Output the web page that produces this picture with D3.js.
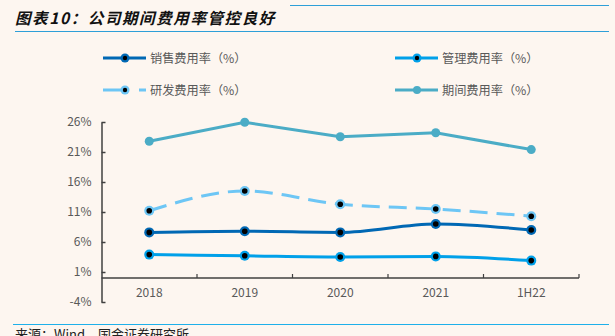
<!DOCTYPE html>
<html><head><meta charset="utf-8">
<script src="https://cdn.jsdelivr.net/npm/d3@7"></script>
<style>
html,body{margin:0;padding:0;background:#FDF6F0;}
svg{display:block;}
</style></head>
<body>
<svg id="c" width="615" height="336"></svg>
<script>
const categories = ["2018","2019","2020","2021","1H22"];
const salesRate = [7.6, 7.8, 7.6, 9.0, 8.0];
const adminRate = [3.9, 3.7, 3.5, 3.6, 2.9];
const rdRate = [11.2, 14.5, 12.3, 11.5, 10.3];
const periodRate = [22.8, 25.95, 23.55, 24.2, 21.4];
const yTicks = [-4, 1, 6, 11, 16, 21, 26];
const seriesNames = ["销售费用率（%）","管理费用率（%）","研发费用率（%）","期间费用率（%）"];
const title = "图表10：公司期间费用率管控良好";
const source = "来源：Wind，国金证券研究所";

const svg = d3.select("#c");
const font = "'Noto Sans CJK SC', 'Noto Sans', sans-serif";
svg.append("rect").attr("width",615).attr("height",336).attr("fill","#FDF6F0");

// header
svg.append("text").attr("x",15).attr("y",23.5).text(title)
  .attr("font-family",font).attr("font-size",15.5).attr("font-weight","bold")
  .attr("letter-spacing",1.6)
  .attr("font-style","italic").attr("fill","#111");
svg.append("line").attr("x1",290).attr("x2",609).attr("y1",5.5).attr("y2",5.5).attr("stroke","#2E9FD8").attr("stroke-width",1.2);
svg.append("line").attr("x1",15).attr("x2",609).attr("y1",31.5).attr("y2",31.5).attr("stroke","#2E9FD8").attr("stroke-width",1.2);
svg.append("line").attr("x1",13).attr("x2",609).attr("y1",324.5).attr("y2",324.5).attr("stroke","#1EB0EA").attr("stroke-width",1.2);
svg.append("text").attr("x",15).attr("y",339).text(source)
  .attr("font-family",font).attr("font-size",13).attr("fill","#222");

const x = d3.scaleBand().domain(categories).range([101.5,579]);
const y = d3.scaleLinear().domain([-4,26]).range([302,122]);

const axisColor = "#404040", labelColor = "#595959";
// y axis
const ya = svg.append("g").attr("transform","translate(101.5,0)")
  .call(d3.axisLeft(y).tickValues(yTicks).tickSize(-4).tickSizeOuter(0).tickPadding(10).tickFormat(d=>d+"%"));
ya.select(".domain").attr("stroke",axisColor).attr("stroke-width",1.5);
ya.selectAll(".tick line").attr("stroke",axisColor).attr("stroke-width",1.5);
ya.selectAll(".tick text").attr("font-family",font).attr("font-size",12).attr("fill",labelColor);

// x axis
const xa = svg.append("g").attr("transform",`translate(0,${y(0)})`);
xa.append("line").attr("x1",101.5).attr("x2",579).attr("y1",0).attr("y2",0).attr("stroke",axisColor).attr("stroke-width",1.5);
const bounds = categories.map(c=>x(c)+x.bandwidth());
xa.selectAll("line.t").data(bounds).join("line").attr("class","t")
  .attr("x1",d=>d).attr("x2",d=>d).attr("y1",0).attr("y2",-4).attr("stroke",axisColor).attr("stroke-width",1.2);
xa.selectAll("text").data(categories).join("text")
  .attr("x",d=>x(d)+x.bandwidth()/2).attr("y",19).attr("text-anchor","middle")
  .attr("font-family",font).attr("font-size",12).attr("fill",labelColor).text(d=>d);

const cx = d=>x(d)+x.bandwidth()/2;
const series = [
  {name:seriesNames[0], vals:salesRate, color:"#0068B4", dash:null, dot:true, curve:d3.curveMonotoneX},
  {name:seriesNames[1], vals:adminRate, color:"#00A0E9", dash:null, dot:true, curve:d3.curveMonotoneX},
  {name:seriesNames[2], vals:rdRate, color:"#6DC6F5", dash:"18,9", dot:true, curve:d3.curveMonotoneX},
  {name:seriesNames[3], vals:periodRate, color:"#4BACC6", dash:null, dot:false, curve:d3.curveLinear}
];
// draw back to front
[3,2,0,1].forEach(i=>{
  const s = series[i];
  const line = d3.line().x(d=>cx(d.c)).y(d=>y(d.v)).curve(s.curve);
  const pts = categories.map((c,j)=>({c, v:s.vals[j]}));
  const g = svg.append("g");
  g.append("path").attr("d",line(pts)).attr("fill","none").attr("stroke",s.color)
    .attr("stroke-width",3).attr("stroke-dasharray",s.dash);
  g.selectAll("circle.o").data(pts).join("circle").attr("class","o")
    .attr("cx",d=>cx(d.c)).attr("cy",d=>y(d.v)).attr("r",s.dot?5:4.5).attr("fill",s.color);
  if(s.dot){
    g.selectAll("circle.i").data(pts).join("circle").attr("class","i")
      .attr("cx",d=>cx(d.c)).attr("cy",d=>y(d.v)).attr("r",2.8).attr("fill","#000");
  }
});

// legend
const legPos = [[103,58],[395,58],[103,90],[395,90]];
series.forEach((s,i)=>{
  const [lx,ly] = legPos[i];
  const g = svg.append("g");
  if(s.dash){
    g.append("line").attr("x1",lx).attr("x2",lx+20).attr("y1",ly).attr("y2",ly).attr("stroke",s.color).attr("stroke-width",3);
    g.append("line").attr("x1",lx+36).attr("x2",lx+43).attr("y1",ly).attr("y2",ly).attr("stroke",s.color).attr("stroke-width",3);
  } else {
    g.append("line").attr("x1",lx).attr("x2",lx+43).attr("y1",ly).attr("y2",ly).attr("stroke",s.color).attr("stroke-width",3);
  }
  g.append("circle").attr("cx",lx+22).attr("cy",ly).attr("r",s.dot?4.5:4).attr("fill",s.color);
  if(s.dot) g.append("circle").attr("cx",lx+22).attr("cy",ly).attr("r",2.2).attr("fill","#000");
  g.append("text").attr("x",lx+47).attr("y",ly+4.5).text(s.name)
    .attr("font-family",font).attr("font-size",12.2).attr("fill",labelColor);
});
</script>
</body></html>
